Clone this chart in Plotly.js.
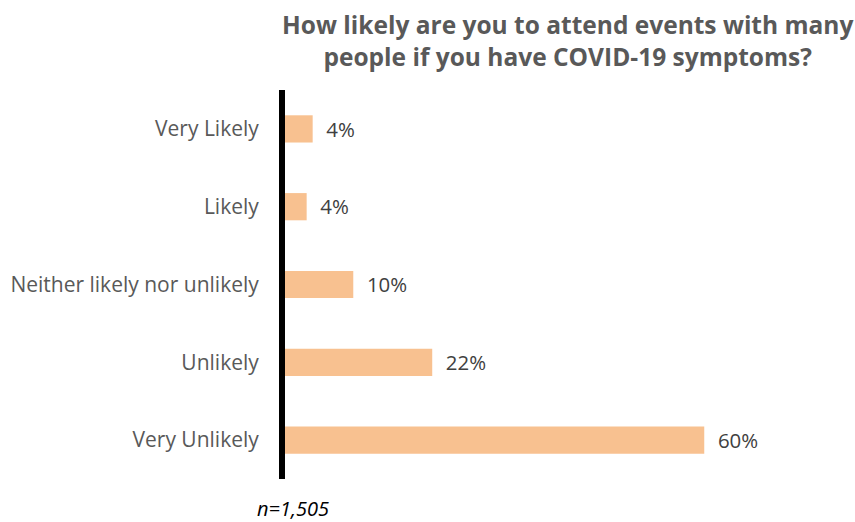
<!DOCTYPE html>
<html>
<head>
<meta charset="utf-8">
<script src="https://cdn.plot.ly/plotly-3.0.1.min.js"></script>
<style>html,body{margin:0;padding:0;background:#fff;}#chart{width:855px;height:522px;}</style>
</head>
<body>
<div id="chart"></div>
<script>
const categories = ["Very Likely", "Likely", "Neither likely nor unlikely", "Unlikely", "Very Unlikely"];
const values = [3.96, 3.1, 9.77, 21.07, 60];
const valueLabels = ["4%", "4%", "10%", "22%", "60%"];
const titleText = "How likely are you to attend events with many<br>people if you have COVID-19 symptoms?";
const noteText = "<i>n=1,505</i>";

const trace = {
  type: "bar",
  orientation: "h",
  y: categories,
  x: values,
  text: valueLabels.map(t => "\u00a0\u00a0" + t),
  textposition: "outside",
  cliponaxis: false,
  textfont: {family: "Open Sans, sans-serif", size: 21, color: "#404040"},
  marker: {color: "#F8C190", line: {width: 0}},
  hoverinfo: "none"
};

const layout = {
  width: 855, height: 522,
  margin: {l: 285, r: 11, t: 90, b: 43},
  paper_bgcolor: "#ffffff", plot_bgcolor: "#ffffff",
  showlegend: false,
  bargap: 0.65,
  title: {
    text: titleText,
    font: {family: "Open Sans, sans-serif", size: 24.5, color: "#595959", weight: "bold"},
    x: 0.664, xanchor: "center", y: 0.934, yanchor: "middle"
  },
  xaxis: {range: [0, 80], visible: false, fixedrange: true},
  yaxis: {
    autorange: "reversed",
    showline: true, linewidth: 6, linecolor: "#000000",
    showgrid: false, zeroline: false, ticks: "",
    ticklabelstandoff: 16,
    tickfont: {family: "Open Sans, sans-serif", size: 21, color: "#595959"}
  },
  annotations: [{
    text: noteText, xref: "paper", yref: "paper", x: -0.0537, y: -0.075,
    xanchor: "left", yanchor: "middle", showarrow: false,
    font: {family: "Open Sans, sans-serif", size: 20, color: "#000000"}
  }]
};

Plotly.newPlot("chart", [trace], layout, {displayModeBar: false, staticPlot: true});
</script>
</body>
</html>
